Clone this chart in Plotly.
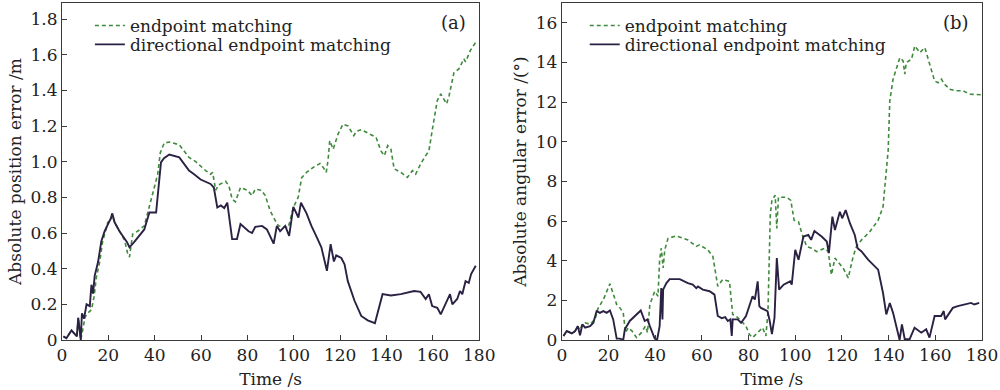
import plotly.graph_objects as go

# ---------------- data ----------------
# Panel (a): absolute position error / m
time_a_dir = [0.6, 1.9, 4.1, 6.4, 7.0, 7.7, 8.1, 8.6, 9.5, 10.6,
              12.0, 12.7, 13.4, 14.1, 15.6, 17.0, 18.4, 19.8, 21.0, 21.7,
              22.7, 24.8, 27.0, 28.0, 29.1, 31.2, 35.5, 37.7, 40.6, 42.7,
              44.0, 46.3, 50.6, 54.8, 57.0, 59.8, 64.1, 65.5, 67.0, 68.5,
              70.0, 71.3, 73.4, 75.5, 77.0, 80.5, 82.0, 83.4, 86.3, 88.4,
              91.3, 92.7, 94.1, 96.3, 98.0, 99.8, 102.0, 103.1, 105.5, 107.6,
              109.8, 111.9, 114.3, 115.9, 117.3, 118.3, 120.5, 121.9, 123.3, 126.2,
              129.1, 131.9, 135.0, 138.3, 141.9, 146.2, 151.9, 154.7, 156.9, 158.3,
              159.7, 161.9, 163.4, 166.0, 167.4, 168.4, 170.5, 171.7, 172.7, 174.1,
              175.5, 176.5, 177.5, 178.5]
err_a_dir = [0.02, 0.01, 0.054, 0.02, 0.125, 0.03, 0.0, 0.15, 0.12, 0.2,
             0.19, 0.31, 0.26, 0.36, 0.44, 0.556, 0.61, 0.648, 0.68, 0.71,
             0.66, 0.61, 0.566, 0.55, 0.52, 0.55, 0.62, 0.715, 0.715, 0.996,
             1.02, 1.04, 1.024, 0.95, 0.93, 0.9, 0.875, 0.855, 0.743, 0.755,
             0.74, 0.77, 0.566, 0.566, 0.65, 0.61, 0.6, 0.635, 0.64, 0.62,
             0.54, 0.64, 0.61, 0.64, 0.584, 0.747, 0.687, 0.77, 0.71, 0.64,
             0.58, 0.52, 0.388, 0.538, 0.44, 0.475, 0.46, 0.425, 0.33, 0.22,
             0.135, 0.11, 0.094, 0.257, 0.25, 0.257, 0.275, 0.27, 0.23, 0.257,
             0.19, 0.18, 0.144, 0.22, 0.257, 0.2, 0.23, 0.275, 0.257, 0.33,
             0.32, 0.37, 0.39, 0.416]

time_a_end = [0.6, 1.9, 4.1, 6.4, 7.0, 7.7, 8.1, 10.0, 11.3, 12.7,
              13.8, 14.8, 16.3, 17.5, 19.8, 21.0, 21.7, 22.7, 24.8, 27.0,
              28.4, 29.1, 30.5, 32.6, 35.5, 37.7, 39.8, 41.3, 42.4, 44.1,
              46.3, 50.6, 54.8, 57.7, 62.0, 64.1, 65.0, 66.3, 67.6, 70.6,
              72.0, 73.4, 74.8, 77.0, 80.0, 82.0, 83.4, 86.0, 87.7, 89.8,
              92.0, 93.4, 97.6, 99.8, 101.9, 103.4, 105.5, 108.4, 111.3, 112.7,
              114.0, 114.8, 115.5, 117.0, 119.1, 121.2, 123.4, 125.9, 127.0, 129.1,
              132.0, 135.5, 137.6, 139.1, 140.5, 141.9, 143.3, 146.2, 149.0, 151.2,
              152.6, 154.7, 156.9, 158.3, 159.7, 161.9, 163.4, 165.9, 167.0, 169.1,
              171.2, 173.4, 174.1, 176.2, 179.0]
err_a_end = [0.02, 0.01, 0.054, 0.02, 0.125, 0.03, 0.0, 0.13, 0.153, 0.17,
             0.24, 0.35, 0.44, 0.55, 0.66, 0.67, 0.70, 0.66, 0.61, 0.56,
             0.48, 0.465, 0.594, 0.61, 0.64, 0.753, 0.856, 0.93, 1.05, 1.105,
             1.11, 1.095, 1.024, 1.0, 0.95, 0.93, 0.94, 0.84, 0.87, 0.89,
             0.865, 0.79, 0.775, 0.856, 0.84, 0.81, 0.846, 0.84, 0.81, 0.725,
             0.67, 0.64, 0.63, 0.743, 0.8, 0.91, 0.94, 0.968, 0.99, 0.968,
             0.94, 1.01, 1.118, 1.07, 1.155, 1.21, 1.2, 1.146, 1.17, 1.18,
             1.16, 1.137, 1.06, 1.034, 1.09, 1.07, 0.96, 0.94, 0.912, 0.95,
             0.93, 0.987, 1.034, 1.06, 1.174, 1.343, 1.38, 1.324, 1.37, 1.5,
             1.52, 1.577, 1.56, 1.624, 1.68]

# Panel (b): absolute angular error / degree
time_b_dir = [0.7, 2.1, 4.3, 5.7, 6.8, 7.8, 8.8, 10.0, 12.1, 13.5,
              14.9, 16.3, 17.8, 19.2, 20.6, 22.0, 23.5, 24.9, 26.3, 27.0,
              29.1, 32.0, 33.8, 35.5, 36.7, 37.7, 39.8, 40.8, 41.9, 42.6,
              43.1, 43.4, 44.8, 46.2, 50.5, 54.0, 56.1, 57.6, 58.3, 60.4,
              63.3, 65.4, 66.8, 68.5, 70.0, 71.1, 72.2, 72.8, 73.2, 75.3,
              76.8, 78.9, 81.7, 82.7, 83.9, 84.6, 85.3, 88.1, 89.0, 90.0,
              91.1, 92.1, 93.1, 95.0, 97.8, 98.5, 100.0, 101.4, 103.5, 105.6,
              106.8, 108.2, 111.3, 113.5, 114.4, 115.9, 117.0, 119.1, 120.1, 121.6,
              123.4, 125.5, 126.7, 128.4, 131.2, 135.5, 137.6, 139.0, 140.5, 141.9,
              144.0, 144.7, 145.7, 146.9, 149.0, 151.1, 154.0, 156.1, 157.5, 159.7,
              162.5, 163.6, 164.2, 167.5, 169.6, 172.4, 175.3, 176.7, 178.8]
err_b_dir = [0.2, 0.45, 0.33, 0.45, 0.7, 0.24, 0.79, 0.62, 0.7, 0.87,
             1.46, 1.37, 1.46, 1.37, 1.49, 1.04, 0.07, 0.07, 0.0, 0.54,
             0.96, 1.29, 1.49, 0.96, 1.04, 0.7, 0.07, 0.0, 0.7, 2.62,
             1.04, 2.54, 2.87, 3.07, 3.07, 2.87, 2.79, 2.62, 2.7, 2.54,
             2.46, 2.29, 1.21, 1.1, 1.15, 0.96, 1.04, 0.2, 1.04, 1.04,
             0.87, 1.21, 2.21, 2.04, 2.96, 1.71, 1.62, 1.46, 1.0, 0.3,
             1.12, 4.13, 2.54, 2.79, 2.96, 2.79, 4.55, 4.05, 5.22, 5.3,
             5.05, 5.5, 5.22, 4.97, 4.38, 6.22, 5.55, 6.47, 6.14, 6.55,
             5.89, 5.3, 4.63, 4.47, 4.05, 3.55, 2.37, 1.29, 1.87, 1.37,
             0.37, 0.0, 0.79, 0.04, 0.04, 0.62, 0.37, 0.54, 0.12, 1.21,
             1.21, 1.46, 1.04, 1.62, 1.71, 1.79, 1.87, 1.79, 1.87]

time_b_end = [0.7, 2.1, 4.3, 5.7, 6.8, 7.8, 8.8, 10.0, 12.1, 14.2,
              15.6, 17.8, 20.6, 22.0, 23.5, 24.9, 26.3, 27.3, 28.4, 30.1,
              32.0, 34.1, 35.8, 36.7, 37.7, 39.8, 41.2, 41.9, 42.6, 43.4,
              44.1, 45.5, 49.0, 54.0, 57.6, 59.0, 62.5, 64.7, 66.8, 68.9,
              71.8, 73.2, 74.6, 76.8, 78.9, 80.3, 81.7, 83.9, 86.0, 87.4,
              88.3, 89.3, 90.0, 91.4, 92.1, 92.8, 96.4, 98.1, 99.5, 101.4,
              102.8, 104.9, 107.0, 109.2, 112.7, 114.1, 115.5, 117.0, 119.1, 120.5,
              122.7, 124.8, 126.2, 128.4, 131.9, 135.5, 137.6, 139.8, 140.5, 141.9,
              144.8, 146.2, 146.9, 147.6, 149.8, 151.2, 153.4, 155.5, 157.6, 159.7,
              161.2, 162.6, 164.0, 166.2, 169.0, 171.9, 174.7, 178.3, 179.8]
err_b_end = [0.2, 0.45, 0.33, 0.45, 0.7, 0.5, 0.8, 0.87, 0.79, 1.04,
             1.62, 2.04, 2.84, 2.37, 1.79, 1.62, 1.37, 0.37, 0.62, 0.45,
             0.12, 0.37, 0.7, 0.37, 1.79, 2.46, 2.21, 4.05, 4.63, 3.63,
             4.55, 5.13, 5.25, 5.05, 4.72, 4.8, 4.55, 4.22, 2.71, 3.05,
             2.96, 1.29, 1.21, 0.96, 0.7, 0.29, 0.12, 0.37, 0.62, 0.2,
             1.4, 6.3, 7.06, 7.3, 5.63, 7.2, 7.2, 7.04, 6.04, 5.96,
             5.38, 4.71, 4.63, 4.46, 4.63, 4.46, 3.29, 4.13, 3.8, 3.63,
             3.13, 4.21, 4.71, 5.05, 5.46, 6.04, 6.72, 9.56, 12.07, 13.16,
             14.24, 14.08, 13.41, 14.0, 14.16, 14.83, 14.5, 14.75, 13.91, 13.07,
             12.98, 13.16, 12.9, 12.65, 12.57, 12.57, 12.4, 12.37, 12.37]

x_ticks = [0, 20, 40, 60, 80, 100, 120, 140, 160, 180]
y_ticks_a = [0, 0.2, 0.4, 0.6, 0.8, 1.0, 1.2, 1.4, 1.6, 1.8]
y_labels_a = ["0", "0.2", "0.4", "0.6", "0.8", "1.0", "1.2", "1.4", "1.6", "1.8"]
y_ticks_b = [0, 2, 4, 6, 8, 10, 12, 14, 16]
series_names = ["endpoint matching", "directional endpoint matching"]

for a, b in [(time_a_dir, err_a_dir), (time_a_end, err_a_end),
             (time_b_dir, err_b_dir), (time_b_end, err_b_end)]:
    assert len(a) == len(b), (len(a), len(b))

# ---------------- styling ----------------
FONT = "DejaVu Serif"
GREEN = "#3f8a3c"
DARK = "#2b2142"
AXC = "#3a3a3a"
FS = 17
FS_LEG = 17

fig = go.Figure()
fig.add_trace(go.Scatter(x=time_a_end, y=err_a_end, mode="lines", name=series_names[0],
                         line=dict(color=GREEN, width=1.6, dash="4px,3px"), showlegend=True,
                         xaxis="x", yaxis="y", legend="legend"))
fig.add_trace(go.Scatter(x=time_a_dir, y=err_a_dir, mode="lines", name=series_names[1],
                         line=dict(color=DARK, width=1.9), showlegend=True,
                         xaxis="x", yaxis="y", legend="legend2"))
fig.add_trace(go.Scatter(x=time_b_end, y=err_b_end, mode="lines", name=series_names[0],
                         line=dict(color=GREEN, width=1.6, dash="4px,3px"), showlegend=True,
                         xaxis="x2", yaxis="y2", legend="legend3"))
fig.add_trace(go.Scatter(x=time_b_dir, y=err_b_dir, mode="lines", name=series_names[1],
                         line=dict(color=DARK, width=1.9), showlegend=True,
                         xaxis="x2", yaxis="y2", legend="legend4"))

axis_common = dict(showline=True, mirror=True, linecolor=AXC, linewidth=1,
                   ticks="inside", ticklen=5, tickcolor=AXC, showgrid=False,
                   zeroline=False, tickfont=dict(family=FONT, size=FS, color="#222"))


def leg(x, y):
    return dict(x=x, y=y, xanchor="left", yanchor="middle", bgcolor="rgba(0,0,0,0)",
                font=dict(family=FONT, size=FS_LEG), itemwidth=30, borderwidth=0)


fig.update_layout(
    width=1000, height=390,
    showlegend=True,
    margin=dict(l=62, r=14, t=2, b=50),
    paper_bgcolor="white", plot_bgcolor="white",
    font=dict(family=FONT, size=FS, color="#222"),
    xaxis=dict(domain=[0, 0.4535], range=[0, 180], tickvals=x_ticks,
               title=dict(text="Time /s", font=dict(family=FONT, size=FS), standoff=8),
               anchor="y", **axis_common),
    yaxis=dict(range=[0, 1.89], tickvals=y_ticks_a, ticktext=y_labels_a,
               title=dict(text="Absolute position error /m", font=dict(family=FONT, size=FS), standoff=4),
               anchor="x", **axis_common),
    xaxis2=dict(domain=[0.5433, 1], range=[0, 180], tickvals=x_ticks,
                title=dict(text="Time /s", font=dict(family=FONT, size=FS), standoff=8),
                anchor="y2", **axis_common),
    yaxis2=dict(range=[0, 17], tickvals=y_ticks_b,
                title=dict(text="Absolute angular error /(°)", font=dict(family=FONT, size=FS), standoff=4),
                anchor="x2", **axis_common),
    legend=leg(0.0303, 0.932),
    legend2=leg(0.0303, 0.876),
    legend3=leg(0.5682, 0.932),
    legend4=leg(0.5682, 0.876),
    annotations=[
        dict(text="(a)", x=0.4253, y=0.941, xref="paper", yref="paper",
             xanchor="center", yanchor="middle", showarrow=False,
             font=dict(family=FONT, size=18)),
        dict(text="(b)", x=0.9719, y=0.941, xref="paper", yref="paper",
             xanchor="center", yanchor="middle", showarrow=False,
             font=dict(family=FONT, size=18)),
    ],
)

fig.write_html("out.html", config={"displayModeBar": False},
               post_script="document.body.style.margin='0px';")
